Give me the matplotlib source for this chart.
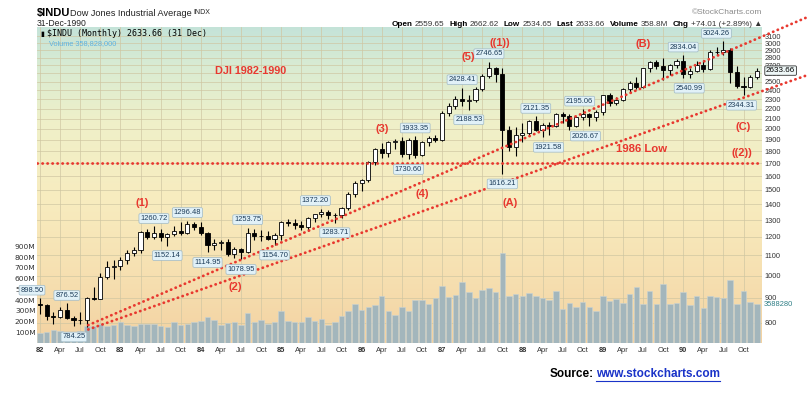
import numpy as np
import matplotlib.pyplot as plt
from matplotlib.colors import LinearSegmentedColormap
from matplotlib.lines import Line2D

# ─────────────────────────────────────────────
# DATA  (DJIA monthly, Jan 1982 .. Dec 1990)
# ─────────────────────────────────────────────
OPEN = [875.00, 871.10, 824.39, 822.77, 848.36, 819.54, 811.93, 808.60, 901.31, 896.25, 991.72, 1039.28,
        1046.54, 1075.70, 1112.62, 1130.03, 1226.20, 1199.98, 1221.96, 1199.22, 1216.16, 1233.13, 1225.20, 1276.02,
        1258.64, 1220.58, 1154.63, 1164.89, 1170.75, 1104.85, 1132.40, 1115.28, 1224.38, 1206.71, 1207.38, 1188.94,
        1211.57, 1286.77, 1284.01, 1266.78, 1258.06, 1315.41, 1335.46, 1347.45, 1334.01, 1328.63, 1374.31, 1472.13,
        1546.67, 1570.99, 1709.06, 1818.61, 1783.98, 1876.71, 1892.72, 1775.31, 1898.34, 1767.58, 1877.81, 1914.23,
        1895.95, 2158.04, 2223.99, 2304.69, 2286.36, 2291.57, 2418.53, 2572.07, 2662.95, 2596.28, 1993.53, 1833.55,
        1938.83, 1958.22, 2071.62, 1988.06, 2032.33, 2031.12, 2141.71, 2128.73, 2031.65, 2112.91, 2148.65, 2114.51,
        2168.57, 2342.32, 2258.39, 2293.62, 2418.80, 2480.15, 2440.06, 2660.66, 2737.27, 2692.82, 2645.08, 2706.27,
        2753.20, 2590.54, 2627.25, 2707.21, 2656.76, 2876.66, 2880.69, 2905.20, 2614.36, 2452.48, 2442.33, 2559.65]
HIGH = [898.50, 876.00, 840.00, 862.00, 876.52, 825.00, 840.00, 905.00, 945.00, 1012.00, 1070.00, 1075.00,
        1094.00, 1126.00, 1146.00, 1232.00, 1246.00, 1260.72, 1245.00, 1222.00, 1265.00, 1290.00, 1296.48, 1290.00,
        1287.00, 1230.00, 1190.00, 1183.00, 1187.00, 1147.00, 1140.00, 1253.75, 1246.00, 1240.00, 1237.00, 1222.00,
        1292.00, 1307.00, 1309.00, 1296.00, 1320.00, 1340.00, 1372.20, 1360.00, 1345.00, 1385.00, 1482.00, 1563.00,
        1580.00, 1720.00, 1830.00, 1870.00, 1890.00, 1905.00, 1925.00, 1912.00, 1933.35, 1890.00, 1935.00, 1940.00,
        2175.00, 2255.00, 2340.00, 2428.41, 2350.00, 2440.00, 2590.00, 2746.65, 2680.00, 2660.00, 2030.00, 2020.00,
        2060.00, 2090.00, 2121.35, 2060.00, 2070.00, 2160.00, 2170.00, 2150.00, 2130.00, 2195.06, 2160.00, 2190.00,
        2350.00, 2370.00, 2330.00, 2430.00, 2510.00, 2560.00, 2670.00, 2760.00, 2770.00, 2800.00, 2720.00, 2780.00,
        2834.04, 2660.00, 2750.00, 2770.00, 2900.00, 2950.00, 3024.26, 2930.00, 2690.00, 2560.00, 2575.00, 2662.62]
LOW = [832.00, 811.00, 795.00, 818.00, 814.00, 786.00, 795.00, 784.25, 892.00, 894.00, 985.00, 985.00,
       1025.00, 1058.00, 1098.00, 1114.00, 1186.00, 1190.00, 1175.00, 1152.14, 1203.00, 1210.00, 1214.00, 1240.00,
       1212.00, 1114.95, 1130.00, 1128.00, 1096.00, 1087.00, 1078.95, 1110.00, 1185.00, 1175.00, 1180.00, 1154.70,
       1184.00, 1263.00, 1245.00, 1242.00, 1233.00, 1290.00, 1320.00, 1305.00, 1283.71, 1315.00, 1366.00, 1452.00,
       1490.00, 1558.00, 1685.00, 1740.00, 1750.00, 1820.00, 1750.00, 1730.60, 1740.00, 1755.00, 1840.00, 1880.00,
       1890.00, 2130.00, 2200.00, 2230.00, 2188.53, 2270.00, 2390.00, 2540.00, 2490.00, 1616.21, 1800.00, 1760.00,
       1879.00, 1940.00, 1980.00, 1921.58, 1940.00, 2020.00, 2060.00, 1985.00, 2020.00, 2090.00, 2026.67, 2080.00,
       2140.00, 2230.00, 2240.00, 2285.00, 2370.00, 2410.00, 2430.00, 2620.00, 2650.00, 2520.00, 2580.00, 2670.00,
       2540.99, 2545.00, 2610.00, 2620.00, 2640.00, 2840.00, 2840.00, 2480.00, 2420.00, 2344.31, 2420.00, 2534.65]
CLOSE = [871.10, 824.39, 822.77, 848.36, 819.54, 811.93, 808.60, 901.31, 896.25, 991.72, 1039.28, 1046.54,
         1075.70, 1112.62, 1130.03, 1226.20, 1199.98, 1221.96, 1199.22, 1216.16, 1233.13, 1225.20, 1276.02, 1258.64,
         1220.58, 1154.63, 1164.89, 1170.75, 1104.85, 1132.40, 1115.28, 1224.38, 1206.71, 1207.38, 1188.94, 1211.57,
         1286.77, 1284.01, 1266.78, 1258.06, 1315.41, 1335.46, 1347.45, 1334.01, 1328.63, 1374.31, 1472.13, 1546.67,
         1570.99, 1709.06, 1818.61, 1783.98, 1876.71, 1892.72, 1775.31, 1898.34, 1767.58, 1877.81, 1914.23, 1895.95,
         2158.04, 2223.99, 2304.69, 2286.36, 2291.57, 2418.53, 2572.07, 2662.95, 2596.28, 1993.53, 1833.55, 1938.83,
         1958.22, 2071.62, 1988.06, 2032.33, 2031.12, 2141.71, 2128.73, 2031.65, 2112.91, 2148.65, 2114.51, 2168.57,
         2342.32, 2258.39, 2293.62, 2418.80, 2480.15, 2440.06, 2660.66, 2737.27, 2692.82, 2645.08, 2706.27, 2753.20,
         2590.54, 2627.25, 2707.21, 2656.76, 2876.66, 2880.69, 2905.20, 2614.36, 2452.48, 2442.33, 2559.65, 2633.66]
# monthly volume, millions
VOLUME_M = [90, 100, 121, 115, 102, 93, 115, 158, 158, 177, 158, 167,
            195, 167, 158, 177, 177, 177, 161, 149, 193, 167, 177, 195,
            207, 242, 217, 167, 186, 195, 167, 279, 195, 217, 177, 198,
            298, 207, 198, 192, 239, 207, 223, 170, 198, 248, 298, 363,
            310, 338, 353, 440, 298, 263, 338, 295, 400, 400, 363, 416,
            533, 431, 447, 570, 472, 419, 493, 509, 472, 834, 440, 456,
            434, 465, 434, 416, 403, 487, 316, 372, 332, 384, 332, 301,
            434, 391, 406, 372, 456, 518, 363, 481, 363, 549, 363, 369,
            472, 356, 434, 326, 434, 431, 419, 589, 363, 481, 384, 358.828]
LAST_VOLUME_TAG = "3588280"   # as printed (clipped) on the right edge

YEARS = ["82", "83", "84", "85", "86", "87", "88", "89", "90"]
QUARTER_MONTHS = ["Apr", "Jul", "Oct"]
PRICE_TICKS = list(range(800, 3200, 100))
VOLUME_TICKS_M = [100, 200, 300, 400, 500, 600, 700, 800, 900]

# swing labels (month indices)
HIGH_LABELS = [0, 4, 17, 22, 31, 42, 56, 63, 67, 74, 81, 96, 102]
LOW_LABELS = [7, 19, 25, 30, 35, 44, 55, 64, 69, 75, 82, 96, 105]
LABEL_DX = {(0, "h"): -8, (7, "l"): -13, (42, "h"): -6, (75, "l"): 6, (81, "h"): -3,
            (82, "l"): -4, (96, "l"): 6, (102, "h"): -7, (105, "l"): -2}

# Elliott wave annotations: (text, month index, price)
WAVES = [("(1)", 15.2, 1406), ("(2)", 29.1, 948), ("(3)", 51.1, 1995), ("(4)", 57.1, 1469),
         ("(5)", 63.9, 2803), ("((1))", 68.7, 3003), ("(A)", 70.1, 1406), ("(B)", 90.0, 2984),
         ("(C)", 105.0, 2019), ("((2))", 104.8, 1786)]

LOW_1986 = 1705
TREND_UPPER = ([7.2, 114.5], [791, 3389])
TREND_LOWER = ([7.2, 114.5], [775, 2577])

RED = "#e8382f"
W, H = 807, 395

# ─────────────────────────────────────────────
# FIGURE
# ─────────────────────────────────────────────
fig = plt.figure(figsize=(W / 100, H / 100), dpi=100)
fig.patch.set_facecolor("white")
pos = [37 / W, 1 - 343 / H, 725 / W, 316 / H]
XLIM = (-0.45, 107.76)
YLIM = (727, 3236)
months = np.arange(len(CLOSE))
xticks = list(range(0, len(CLOSE), 3))

# background gradient + grid
bg = fig.add_axes(pos, zorder=0)
cmap = LinearSegmentedColormap.from_list("bg", [
    (0.0, "#c4e3d9"), (0.12, "#d8ebd3"), (0.3, "#eff0c9"), (0.55, "#f8ecbf"),
    (0.8, "#f6dfb0"), (1.0, "#f3d2a2")])
grad = np.linspace(0, 1, 256).reshape(-1, 1)
bg.imshow(grad, cmap=cmap, aspect="auto", extent=(0, 1, 0, 1),
          transform=bg.transAxes, interpolation="bilinear")
bg.set_yscale("log")
bg.set_xlim(XLIM)
bg.set_ylim(YLIM)
for p in PRICE_TICKS:
    bg.axhline(p, color="#cfc6a2", lw=0.6, alpha=0.8)
for t in xticks:
    bg.axvline(t, color="#cfc6a2", lw=0.6, alpha=0.8)
bg.set_axis_off()

# volume
vax = fig.add_axes(pos, zorder=1)
vax.patch.set_visible(False)
vol = np.array(VOLUME_M) * 1e6
vax.bar(months, vol, width=0.82, color="#a3b6bc", edgecolor="#c8d3d5", linewidth=0.4)
vax.set_xlim(XLIM)
vax.set_ylim(0, 2940e6)
vax.set_yticks([v * 1e6 for v in VOLUME_TICKS_M])
vax.set_yticklabels([f"{v}M" for v in VOLUME_TICKS_M])
vax.tick_params(axis="y", length=0, pad=1, labelsize=5.4, labelcolor="#333333")
vax.set_xticks([])
for s in vax.spines.values():
    s.set_visible(False)
vax.annotate(LAST_VOLUME_TAG, xy=(1.0, vol[-1]), xycoords=("axes fraction", "data"),
             xytext=(2, 0), textcoords="offset pixels", ha="left", va="center",
             fontsize=5.4, color="#2f7f86", family="Liberation Sans",
             annotation_clip=False)

# price candles
ax = fig.add_axes(pos, zorder=2)
ax.patch.set_visible(False)
ax.set_yscale("log")
o, h, l, c = map(np.array, (OPEN, HIGH, LOW, CLOSE))
up = c >= o
ax.vlines(months, l, h, color="black", linewidth=0.8, zorder=3)
ax.bar(months, np.abs(c - o), bottom=np.minimum(o, c), width=0.62,
       color=np.where(up, "white", "black"), edgecolor="black", linewidth=0.6, zorder=4)

# red dotted lines
dot = dict(color=RED, linewidth=2.0, linestyle=(0, (0.1, 1.7)), dash_capstyle="round", zorder=5)
ax.axhline(LOW_1986, **dot)
ax.plot(*TREND_UPPER, clip_on=False, **dot)
ax.plot(*TREND_LOWER, clip_on=False, **dot)

ax.set_xlim(XLIM)
ax.set_ylim(YLIM)
ax.minorticks_off()
ax.yaxis.tick_right()
ax.set_yticks(PRICE_TICKS)
ax.set_yticklabels([str(p) for p in PRICE_TICKS])
ax.tick_params(axis="y", length=0, pad=2, labelsize=5.3, labelcolor="#333333")
xlabels = []
for y in YEARS:
    xlabels += [y] + QUARTER_MONTHS
ax.set_xticks(xticks)
ax.set_xticklabels(xlabels[:len(xticks)])
ax.tick_params(axis="x", length=0, pad=3, labelsize=5.4, labelcolor="#333333")
for t in ax.get_yticklabels() + ax.get_xticklabels():
    t.set_family("Liberation Sans")
for t, lab in zip(xticks, ax.get_xticklabels()):
    if t % 12 == 0:
        lab.set_fontweight("bold")
for s in ax.spines.values():
    s.set_visible(False)

# swing value labels
box = dict(boxstyle="round,pad=0.18", fc="#e1f1f8", ec="#9fb9c6", lw=0.5)
for i in HIGH_LABELS:
    ax.annotate(f"{HIGH[i]:.2f}", xy=(i, HIGH[i]), xytext=(LABEL_DX.get((i, "h"), 0), 8),
                textcoords="offset pixels", ha="center", va="center", fontsize=5.4,
                color="#1c3b58", family="Liberation Sans", bbox=box, zorder=6)
for i in LOW_LABELS:
    ax.annotate(f"{LOW[i]:.2f}", xy=(i, LOW[i]), xytext=(LABEL_DX.get((i, "l"), 0), -10),
                textcoords="offset pixels", ha="center", va="center", fontsize=5.4,
                color="#1c3b58", family="Liberation Sans", bbox=box, zorder=6)

# last price tag
ax.annotate(f"{CLOSE[-1]:.2f}", xy=(1.0, CLOSE[-1]), xycoords=("axes fraction", "data"),
            xytext=(4, 0), textcoords="offset pixels", ha="left", va="center",
            fontsize=5.8, color="black", family="Liberation Sans",
            bbox=dict(boxstyle="round,pad=0.15", fc="#eef7f7", ec="#333333", lw=0.6),
            annotation_clip=False, zorder=7)

# wave labels
for txt, i, p in WAVES:
    ax.text(i, p, txt, ha="center", va="center", fontsize=8, fontweight="bold",
            color=RED, family="Liberation Sans", zorder=6)
ax.text(31.5, 2627, "DJI 1982-1990", ha="center", va="center", fontsize=7.8,
        fontweight="bold", color=RED, family="Liberation Sans", zorder=6)
ax.text(89.8, 1815, "1986 Low", ha="center", va="center", fontsize=8.2,
        fontweight="bold", color=RED, family="Liberation Sans", zorder=6)

# in-chart legend lines
fig.text(47 / W, 1 - 34 / H, f"$INDU (Monthly) {CLOSE[-1]:.2f} (31 Dec)", fontsize=6,
         family="DejaVu Sans Mono", va="center", ha="left", color="black")
fig.text(40 / W, 1 - 34 / H, "\u25ae", fontsize=5, va="center", ha="left", color="black")
fig.text(49 / W, 1 - 43.5 / H, "Volume 358,828,000", fontsize=5.3,
         family="Liberation Sans", va="center", ha="left", color="#5eb2e0")

# header
fig.text(37 / W, 1 - 13 / H, "$INDU", fontsize=8, fontweight="bold",
         family="Liberation Sans", va="center", ha="left")
fig.text(70 / W, 1 - 13 / H, "Dow Jones Industrial Average", fontsize=6.6,
         family="Liberation Sans", va="center", ha="left", color="#222222")
fig.text(193 / W, 1 - 13 / H, "INDX", fontsize=5, family="Liberation Sans",
         va="center", ha="left", color="#222222")
fig.text(37 / W, 1 - 24 / H, "31-Dec-1990", fontsize=6.2, family="Liberation Sans",
         va="center", ha="left", color="#222222")
fig.text(762 / W, 1 - 13 / H, "\u00a9StockCharts.com", fontsize=6, family="Liberation Sans",
         va="center", ha="right", color="#8a8a8a")

pieces = [("Open", True), ("2559.65", False), ("High", True), ("2662.62", False),
          ("Low", True), ("2534.65", False), ("Last", True), ("2633.66", False),
          ("Volume", True), ("358.8M", False), ("Chg", True), ("+74.01 (+2.89%) \u25b2", False)]
renderer = fig.canvas.get_renderer()
texts = []
for txt, bold in pieces:
    t = fig.text(0, 1 - 24 / H, txt, fontsize=5.9, fontweight="bold" if bold else "normal",
                 family=["Liberation Sans", "DejaVu Sans"], va="center", ha="left",
                 color="black" if bold else "#333333")
    texts.append((t, bold))
widths = [t.get_window_extent(renderer).width for t, _ in texts]
gaps = [2 if b else 5 for _, b in texts]
total = sum(widths) + sum(gaps[:-1])
x = 762 - total
for (t, _), w_, g in zip(texts, widths, gaps):
    t.set_x(x / W)
    x += w_ + g

# source line
s1 = fig.text(550 / W, 1 - 374 / H, "Source:", fontsize=8.5, fontweight="bold",
              family="Liberation Sans", va="center", ha="left", color="black")
s2 = fig.text(596 / W, 1 - 374 / H, "www.stockcharts.com", fontsize=8.5, fontweight="bold",
              family="Liberation Sans", va="center", ha="left", color="#1a33c8")
bb = s2.get_window_extent(renderer)
fig.add_artist(Line2D([bb.x0 / W, bb.x1 / W], [(bb.y0 - 0.5) / H] * 2, color="#1a33c8", lw=0.8))

fig.savefig("out.png", dpi=100, facecolor="white")
